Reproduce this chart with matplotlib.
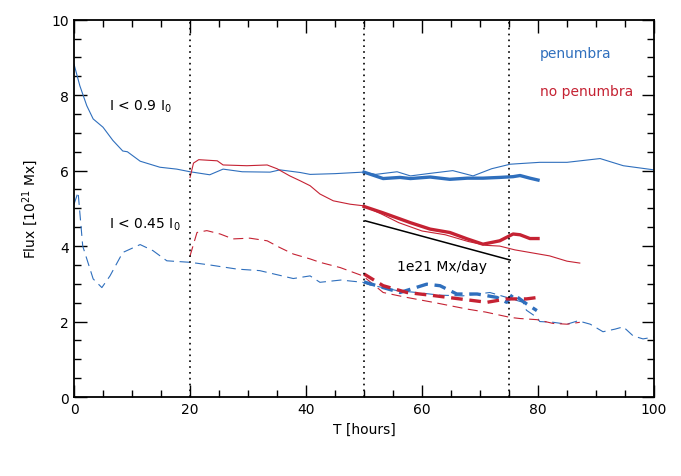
import matplotlib.pyplot as plt
from matplotlib.ticker import MultipleLocator

# penumbra, I < 0.9 I0 (thin solid)
pen_t = [0, 1.0, 2.2, 3.3, 5, 6.7, 8.4, 9.2, 11.4, 14.8, 17.7, 20, 23.4, 25.7, 29,
         33.8, 35.5, 39, 40.7, 45, 49.8, 52, 55.7, 58, 61, 65.3, 68.8, 72, 75.2, 80.3,
         85, 90.7, 94.7, 100]
pen_f = [8.82, 8.25, 7.72, 7.37, 7.15, 6.8, 6.52, 6.5, 6.25, 6.09, 6.04, 5.97, 5.89,
         6.04, 5.97, 5.96, 6.02, 5.95, 5.9, 5.92, 5.96, 5.9, 5.97, 5.86, 5.92, 6.0, 5.86,
         6.05, 6.17, 6.22, 6.22, 6.32, 6.13, 6.02]

# no penumbra, I < 0.9 I0 (thin solid)
nopen_t = [20, 20.6, 21.5, 24.7, 25.7, 29.8, 33.3, 35, 37.2, 39, 40.7, 42.4, 44.7, 47.6,
           49.8, 53, 56, 60, 64, 68, 71, 73.4, 76, 79, 82, 85, 87.2]
nopen_f = [5.82, 6.2, 6.29, 6.26, 6.15, 6.13, 6.15, 6.05, 5.86, 5.73, 5.6, 5.38, 5.2, 5.11,
           5.07, 4.85, 4.62, 4.4, 4.3, 4.12, 4.02, 4.0, 3.9, 3.82, 3.74, 3.6, 3.55]

# penumbra, I < 0.45 I0 (thin dashed)
pen45_t = [0, 0.7, 1.5, 3.3, 4.8, 6.2, 8.4, 11.4, 13.6, 16, 20, 23.4, 28.1, 32, 37.8, 40.7,
           42.4, 46, 49.8, 51, 53.3, 55.7, 59.1, 63, 67, 71.7, 74.6, 77.4, 78, 79.8, 80.3,
           82.6, 85, 86.9, 89, 91.2, 93.3, 94.7, 96.4, 98.1, 100]
pen45_f = [5.11, 5.43, 4.0, 3.13, 2.9, 3.21, 3.83, 4.04, 3.88, 3.61, 3.57, 3.5, 3.39, 3.35,
           3.14, 3.21, 3.04, 3.1, 3.04, 2.97, 2.9, 2.82, 2.77, 2.7, 2.68, 2.77, 2.64, 2.51,
           2.3, 2.11, 2.0, 1.98, 1.93, 2.02, 1.93, 1.73, 1.8, 1.86, 1.62, 1.54, 1.59]

# no penumbra, I < 0.45 I0 (thin dashed)
nopen45_t = [20, 21.2, 22.9, 25.2, 27.4, 30.3, 33.3, 35.5, 37.8, 40.7, 42.4, 45.9, 49.8,
             53.3, 57, 61.9, 67.8, 71, 75.2, 76.9, 79.8, 82.6, 85, 87.2]
nopen45_f = [3.74, 4.36, 4.41, 4.32, 4.19, 4.21, 4.14, 3.96, 3.79, 3.66, 3.57, 3.43, 3.21,
             2.77, 2.65, 2.51, 2.33, 2.25, 2.11, 2.08, 2.05, 1.95, 1.93, 1.98]

# subset 50-80 h (thick lines)
sub_t = [50, 53.3, 56.2, 58, 61.4, 64.8, 67.8, 70.5, 73.4, 75.7, 76.9, 78.6, 80]
sub_pen_f = [5.96, 5.79, 5.82, 5.79, 5.83, 5.77, 5.8, 5.8, 5.82, 5.84, 5.87, 5.8, 5.75]
sub_nopen_f = [5.05, 4.88, 4.72, 4.62, 4.45, 4.36, 4.19, 4.05, 4.14, 4.32, 4.3, 4.2, 4.2]
sub45_pen_t = [50, 52.2, 56.2, 60.8, 63.1, 66, 69.5, 72.9, 74.6, 75.7, 78.1, 79.8]
sub45_pen_f = [3.05, 2.95, 2.77, 2.99, 2.95, 2.73, 2.73, 2.64, 2.51, 2.73, 2.46, 2.29]
sub45_nopen_t = [50, 53.3, 57.4, 61.9, 66.5, 71.2, 74.6, 78, 80]
sub45_nopen_f = [3.26, 2.95, 2.77, 2.69, 2.6, 2.51, 2.6, 2.6, 2.64]

# 1e21 Mx/day reference slope
slope_t = [50.2, 75.2]
slope_f = [4.67, 3.63]

marks = [20, 50, 75]

blue = '#2f6fbd'
red = '#c52233'

fig = plt.figure(figsize=(6.81, 4.77), dpi=100)
ax = fig.add_axes([0.1087, 0.1656, 0.8517, 0.791])

ax.plot(pen_t, pen_f, color=blue, lw=0.8)
ax.plot(nopen_t, nopen_f, color=red, lw=0.8)
ax.plot(pen45_t, pen45_f, color=blue, lw=0.8, dashes=(9, 5))
ax.plot(nopen45_t, nopen45_f, color=red, lw=0.8, dashes=(9, 5))

ax.plot(sub_t, sub_pen_f, color=blue, lw=2.4)
ax.plot(sub_t, sub_nopen_f, color=red, lw=2.4)
ax.plot(sub45_pen_t, sub45_pen_f, color=blue, lw=2.4, dashes=(3.5, 2))
ax.plot(sub45_nopen_t, sub45_nopen_f, color=red, lw=2.4, dashes=(3.5, 2))

ax.plot(slope_t, slope_f, color='black', lw=1.1)

for m in marks:
    ax.axvline(m, color='black', lw=1.2, linestyle=(0, (1, 2.5)))

ax.text(6, 7.73, r'I < 0.9 I$_0$', fontsize=10, va='center')
ax.text(6, 4.58, r'I < 0.45 I$_0$', fontsize=10, va='center')
ax.text(63.5, 3.47, '1e21 Mx/day', fontsize=10, ha='center', va='center')
ax.text(80.3, 9.11, 'penumbra', color=blue, fontsize=10, va='center')
ax.text(80.3, 8.1, 'no penumbra', color=red, fontsize=10, va='center')

ax.set_xlim(0, 100)
ax.set_ylim(0, 10)
ax.xaxis.set_major_locator(MultipleLocator(20))
ax.xaxis.set_minor_locator(MultipleLocator(5))
ax.yaxis.set_major_locator(MultipleLocator(2))
ax.yaxis.set_minor_locator(MultipleLocator(0.5))
ax.tick_params(which='both', direction='in', top=True, right=True, labelsize=10, width=1)
ax.tick_params(which='major', length=9)
ax.tick_params(which='minor', length=5)
for s in ax.spines.values():
    s.set_linewidth(1.3)

ax.set_xlabel('T [hours]', fontsize=10)
ax.set_ylabel(r'Flux [10$^{21}$ Mx]', fontsize=10, labelpad=8)

fig.savefig('out.png', dpi=100)
